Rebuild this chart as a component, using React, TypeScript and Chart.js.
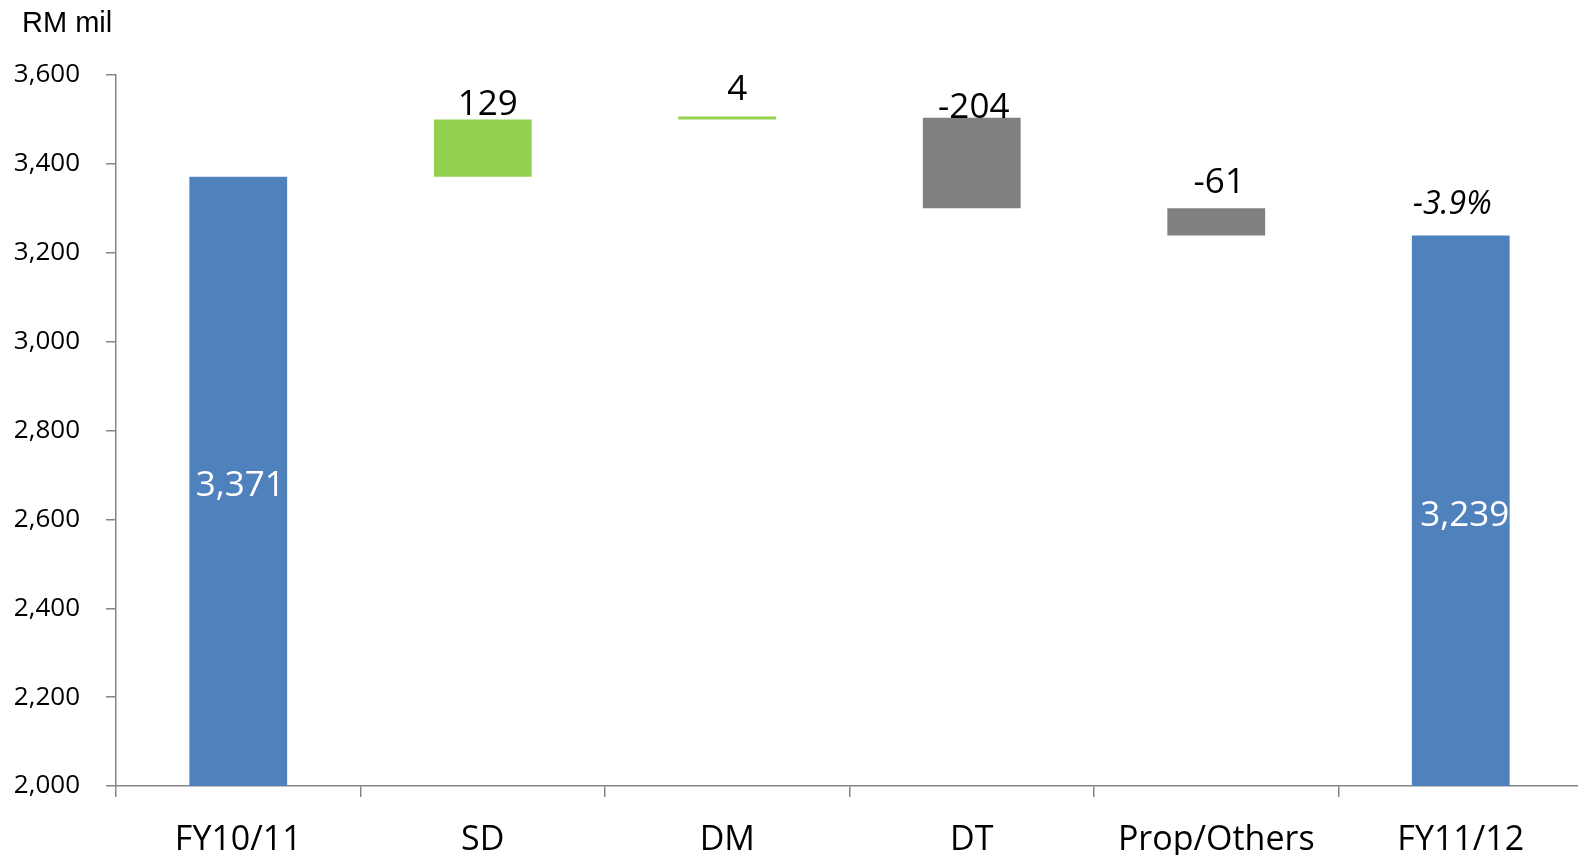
import React, { useEffect, useRef } from "react";
import { Chart, registerables } from "chart.js";

Chart.register(...registerables);

// ---- Data ----
const categories = ["FY10/11", "SD", "DM", "DT", "Prop/Others", "FY11/12"];
const openingValue = 3371;
const changeValues = [129, 4, -204, -61];
const closingValue = 3239;
const valueLabels = ["3,371", "129", "4", "-204", "-61", "3,239"];
const growthLabel = "-3.9%";
const yMin = 2000;
const yMax = 3600;
const yStep = 200;
const unitLabel = "RM mil";

// ---- Styles ----
const BLUE = "#4F81BD";
const GREEN = "#92D050";
const GREY = "#808080";
const AXIS = "#868686";
const FONT = "'Open Sans', 'DejaVu Sans', sans-serif";

function buildFloating(): [number, number][] {
  const out: [number, number][] = [[0, openingValue]];
  let run = openingValue;
  for (const c of changeValues) {
    out.push([run, run + c]);
    run += c;
  }
  out.push([0, closingValue]);
  return out;
}

function buildColors(): string[] {
  const cols = [BLUE];
  for (const c of changeValues) cols.push(c >= 0 ? GREEN : GREY);
  cols.push(BLUE);
  return cols;
}

// label style offsets (px)
const labelDx = [2, 5, 10, 2, 3, 4];
const labelGap = [0, 4, 16, -0.5, 15, 0];

const labelPlugin = {
  id: "wfLabels",
  afterDatasetsDraw(chart: any) {
    const ctx = chart.ctx as CanvasRenderingContext2D;
    const meta = chart.getDatasetMeta(0);
    const area = chart.chartArea;
    const last = meta.data.length - 1;
    ctx.save();
    meta.data.forEach((bar: any, i: number) => {
      const p = bar.getProps(["x", "y", "base"], true);
      const top = Math.min(p.y, p.base);
      const bottom = Math.min(Math.max(p.y, p.base), area.bottom);
      if (i === 0 || i === last) {
        ctx.font = `35px ${FONT}`;
        ctx.fillStyle = "#FFFFFF";
        ctx.textAlign = "center";
        ctx.textBaseline = "middle";
        ctx.fillText(valueLabels[i], p.x + labelDx[i], (top + bottom) / 2 + 5);
      } else {
        ctx.font = `35px ${FONT}`;
        ctx.fillStyle = "#000000";
        ctx.textAlign = "center";
        ctx.textBaseline = "alphabetic";
        ctx.fillText(valueLabels[i], p.x + labelDx[i], top - labelGap[i]);
      }
      if (i === last) {
        ctx.font = `italic 32px ${FONT}`;
        ctx.fillStyle = "#000000";
        ctx.textAlign = "center";
        ctx.textBaseline = "alphabetic";
        ctx.fillText(growthLabel, p.x - 8.5, top - 21);
      }
    });
    // unit label
    ctx.font = `29px 'Liberation Sans', Arial, sans-serif`;
    ctx.fillStyle = "#000000";
    ctx.textAlign = "left";
    ctx.textBaseline = "alphabetic";
    ctx.fillText(unitLabel, 22, 32);
    ctx.restore();
  },
};

export default function App() {
  const ref = useRef<HTMLCanvasElement | null>(null);

  useEffect(() => {
    if (!ref.current) return;
    const chart = new Chart(ref.current, {
      type: "bar",
      data: {
        labels: categories,
        datasets: [
          {
            data: buildFloating() as any,
            backgroundColor: buildColors(),
            borderWidth: 0,
            barPercentage: 0.4,
            categoryPercentage: 1,
            minBarLength: 3,
          },
        ],
      },
      options: {
        responsive: false,
        animation: false,
        devicePixelRatio: 1,
        layout: { padding: { top: 75, right: 1, left: 0, bottom: 0 } },
        plugins: {
          legend: { display: false },
          tooltip: { enabled: false },
          title: { display: false },
        },
        scales: {
          x: {
            grid: {
              display: true,
              offset: true,
              drawOnChartArea: false,
              drawTicks: true,
              tickLength: 11,
              color: AXIS,
              lineWidth: 1.5,
            },
            border: { display: true, color: AXIS, width: 1.5 },
            ticks: {
              font: { family: FONT, size: 34 },
              color: "#000000",
              padding: 23,
              maxRotation: 0,
              autoSkip: false,
            },
            afterFit: (s: any) => {
              s.height = 69;
            },
          },
          y: {
            min: yMin,
            max: yMax,
            grid: {
              display: true,
              drawOnChartArea: false,
              drawTicks: true,
              tickLength: 10,
              color: AXIS,
              lineWidth: 1.5,
            },
            border: { display: true, color: AXIS, width: 1.5 },
            ticks: {
              stepSize: yStep,
              font: { family: FONT, size: 26 },
              color: "#000000",
              padding: 26,
              callback: (v: any) => Number(v).toLocaleString("en-US"),
            },
            afterFit: (s: any) => {
              s.width = 116;
            },
          },
        },
      },
      plugins: [labelPlugin],
    });
    return () => chart.destroy();
  }, []);

  return (
    <div
      style={{
        position: "fixed",
        left: 0,
        top: 0,
        width: 1578,
        height: 855,
        overflow: "hidden",
        background: "#FFFFFF",
      }}
    >
      <canvas ref={ref} width={1584} height={855} style={{ display: "block" }} />
    </div>
  );
}
